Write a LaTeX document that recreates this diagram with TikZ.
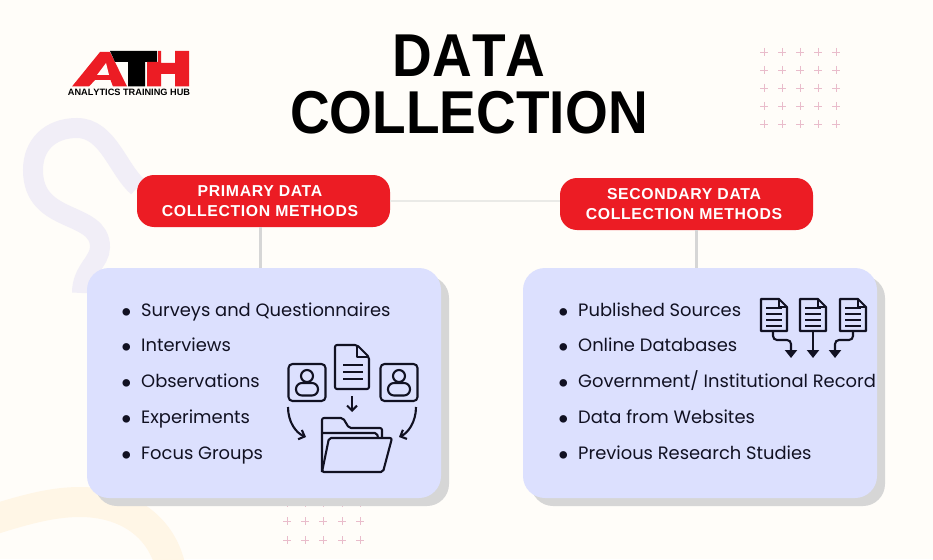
\documentclass[tikz,border=0pt]{standalone}
\usepackage{fontspec}
\setmainfont{Poppins}
\newfontfamily\titlefont[Kerning=Off]{Liberation Sans}
\newfontfamily\headfont[LetterSpace=4]{Liberation Sans}
\usetikzlibrary{arrows.meta}
\definecolor{paper}{HTML}{FFFDF9}
\definecolor{athred}{HTML}{EC1C24}
\definecolor{panel}{HTML}{DCE0FE}
\definecolor{shade}{HTML}{D6D6D6}
\definecolor{squiggle}{HTML}{F1EEF7}
\definecolor{sand}{HTML}{FFF6E6}
\definecolor{plus}{HTML}{E9BCCB}
\definecolor{ink}{HTML}{111122}
\tikzset{
	headbox/.style={fill=athred, rounded corners=17pt, minimum width=253pt, minimum height=52pt, inner sep=0pt, align=center, text=white, font=\headfont\bfseries\fontsize{15.8}{20}\selectfont},
	panelbox/.style={fill=panel, rounded corners=22pt, minimum width=354pt, minimum height=230pt, inner sep=0pt},
	shadebox/.style={fill=shade, rounded corners=22pt, minimum width=354pt, minimum height=230pt, inner sep=0pt},
	item/.style={anchor=base west, inner sep=0pt, text=ink, font=\fontsize{17.9}{22}\selectfont},
	titletext/.style={inner sep=0pt, font=\titlefont\bfseries\fontsize{55}{60}\selectfont},
	icon/.style={draw=ink, line width=2.1pt, line join=round},
	link/.style={draw=shade, line width=3pt},
}
\newcommand{\bulleted}[1]{\makebox[21pt][l]{\raisebox{-6.2pt}{\scalebox{1.7}{\textbullet}}}#1}
\begin{document}
\begin{tikzpicture}[x=1pt, y=-1pt]
		\useasboundingbox (0, 0) rectangle (933, 559);
		\fill [paper] (0, 0) rectangle (933, 559);
		% background
		\draw [squiggle, line width=20pt] (138, 187) .. controls (118, 170) and (108, 128) .. (77, 128) .. controls (50, 128) and (33, 145) .. (33, 170) .. controls (33, 225) and (100, 210) .. (100, 247) .. controls (100, 262) and (82, 270) .. (82, 293);
		\draw [sand, line width=30pt] (-5, 519) .. controls (30, 508) and (55, 502) .. (80, 502) .. controls (125, 502) and (160, 525) .. (170, 565);
		\foreach \x in {764, 782, 800, 818, 836}
			\foreach \y in {52, 70, 88, 106, 124}
				\draw [plus, line width=0.8pt] (\x-4, \y) -- (\x+4, \y) (\x, \y-4) -- (\x, \y+4);
		\foreach \x in {287, 305, 323, 342, 360}
			\foreach \y in {503, 521, 540}
				\draw [plus, line width=0.8pt] (\x-4, \y) -- (\x+4, \y) (\x, \y-4) -- (\x, \y+4);
		% logo
		\fill [athred] (72, 86.5) -- (100, 52) -- (110, 52) -- (127, 86.5) -- (113, 86.5) -- (110.5, 80) -- (95, 80) -- (89, 86.5) -- cycle;
		\fill [paper] (97, 75) -- (106, 63) -- (109, 75) -- cycle;
		\fill [black] (110, 51) -- (157, 51) -- (157, 62) -- (145, 62) -- (145, 86.5) -- (128, 86.5) -- (128, 62) -- (115, 62) -- cycle;
		\fill [athred] (147, 62) -- (158, 62) -- (158, 51) -- (161, 51) -- (161, 63) -- (175, 63) -- (175, 51) -- (189, 51) -- (189, 86.5) -- (175, 86.5) -- (175, 74) -- (161, 74) -- (161, 86.5) -- (147, 86.5) -- cycle;
		\node (brand) at (129, 92) [inner sep=0pt] {\titlefont\bfseries\fontsize{9.2}{10}\selectfont ANALYTICS TRAINING HUB};
		% title
		\node [titletext] (title1) at (469, 56) {\scalebox{1}[1.1]{DATA}};
		\node [titletext] (title2) at (469, 113) {\scalebox{1}[1.1]{COLLECTION}};
		% boxes
		\node [shadebox] (leftshade) at (272, 391) {};
		\node [shadebox] (rightshade) at (708, 391) {};
		\node [headbox] (primary) at (263.5, 201) {PRIMARY DATA\rule{7pt}{0pt}\\COLLECTION METHODS\rule{7pt}{0pt}};
		\node [headbox] (secondary) at (686.5, 204) {SECONDARY DATA\rule{5pt}{0pt}\\COLLECTION METHODS\rule{5pt}{0pt}};
		\node [panelbox] (leftpanel) at (264, 383) {};
		\node [panelbox] (rightpanel) at (700, 383) {};
		\draw [draw=shade!50!paper, line width=1.5pt] (primary.east) -- (secondary.west |- primary.east);
		\draw [link] (primary.south -| 260, 0) -- (leftpanel.north -| 260, 0);
		\draw [link] (secondary.south -| 696, 0) -- (rightpanel.north -| 696, 0);
		% lists
		\node [item] (surveys) at (120, 316.5) {\bulleted{Surveys and Questionnaires}};
		\node [item] (interviews) at (120, 351.5) {\bulleted{Interviews}};
		\node [item] (observations) at (120, 387.5) {\bulleted{Observations}};
		\node [item] (experiments) at (120, 423.5) {\bulleted{Experiments}};
		\node [item] (focus) at (120, 459.5) {\bulleted{Focus Groups}};
		\node [item] (published) at (557, 316.5) {\bulleted{Published Sources}};
		\node [item] (online) at (557, 351.5) {\bulleted{Online Databases}};
		\node [item] (government) at (557, 387.5) {\bulleted{Government/ Institutional Record}};
		\node [item] (websites) at (557, 423.5) {\bulleted{Data from Websites}};
		\node [item] (previous) at (557, 459.5) {\bulleted{Previous Research Studies}};
		% primary icon
		\foreach \cx in {307, 399} {
			\draw [icon, rounded corners=4pt] (\cx-18.5, 364) rectangle (\cx+18.5, 401);
			\draw [icon] (\cx, 376) circle (6pt);
			\draw [icon, rounded corners=6pt] (\cx-11, 395.5) -- (\cx-11, 383) -- (\cx+11, 383) -- (\cx+11, 395.5) -- cycle;
		}
		\draw [icon, rounded corners=2pt] (335, 345) -- (357, 345) -- (369, 357) -- (369, 389) -- (335, 389) -- cycle;
		\draw [icon] (357, 345) -- (357, 357) -- (369, 357);
		\foreach \y in {365, 372, 379}
			\draw [icon] (343, \y) -- (363, \y);
		\draw [icon, -{Straight Barb[length=5pt, width=10pt]}] (352, 396) -- (352, 412);
		\draw [icon, -{Straight Barb[length=5pt, width=10pt]}] (288, 407) .. controls (288, 422) and (296, 433) .. (306, 437);
		\draw [icon, -{Straight Barb[length=5pt, width=10pt]}] (416, 407) .. controls (416, 422) and (408, 433) .. (399, 437);
		\draw [icon, rounded corners=2pt] (322, 472) -- (322, 418) -- (343, 418) -- (349, 428) -- (382, 428) -- (382, 438);
		\draw [icon, rounded corners=2pt] (322, 433) -- (377, 433) -- (378, 438);
		\draw [icon, rounded corners=2pt] (322, 472) -- (329, 438) -- (392, 438) -- (383, 472) -- cycle;
		% secondary icon
		\foreach \dx in {761, 800, 840} {
			\draw [icon, fill=panel] (\dx, 299) -- (\dx+18, 299) -- (\dx+26, 307) -- (\dx+26, 331) -- (\dx, 331) -- cycle;
			\draw [icon] (\dx+18, 299) -- (\dx+18, 307) -- (\dx+26, 307);
			\foreach \y in {308, 314, 320, 326}
				\draw [icon] (\dx+5, \y) -- (\dx+21, \y);
		}
		\draw [icon, rounded corners=4pt, -{Triangle[length=8pt, width=12pt]}] (773, 331) -- (773, 340) -- (791, 340) -- (791, 358);
		\draw [icon, -{Triangle[length=8pt, width=12pt]}] (813, 331) -- (813, 358);
		\draw [icon, rounded corners=4pt, -{Triangle[length=8pt, width=12pt]}] (853, 331) -- (853, 340) -- (835, 340) -- (835, 358);
\end{tikzpicture}
\end{document}
